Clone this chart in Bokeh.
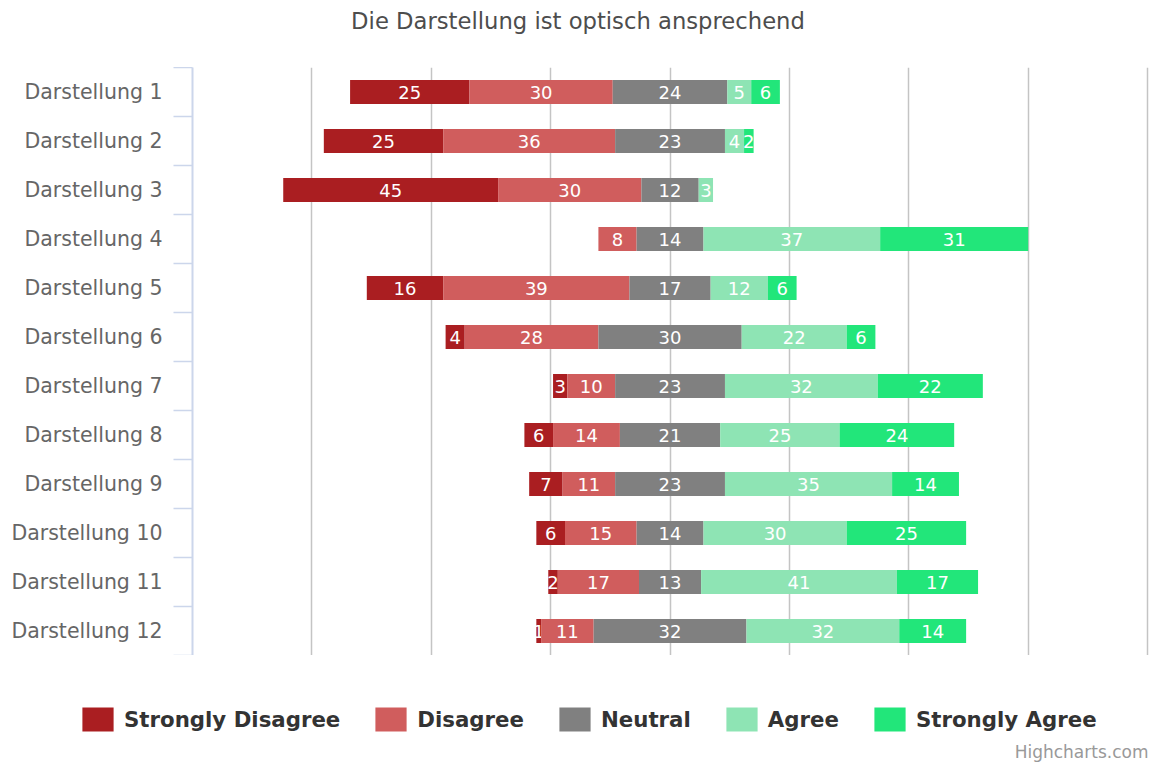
from bokeh.plotting import figure
from bokeh.layouts import column
from bokeh.models import (ColumnDataSource, Range1d, FixedTicker, LinearAxis, Grid,
                          Legend, LegendItem, Label)
from bokeh.embed import file_html
from bokeh.resources import INLINE
from bokeh.core.properties import value

# ---------------- data ----------------
categories = [f"Darstellung {i}" for i in range(1, 13)]
strongly_disagree = [25, 25, 45, 0, 16, 4, 3, 6, 7, 6, 2, 1]
disagree = [30, 36, 30, 8, 39, 28, 10, 14, 11, 15, 17, 11]
neutral = [24, 23, 12, 14, 17, 30, 23, 21, 23, 14, 13, 32]
agree = [5, 4, 3, 37, 12, 22, 32, 25, 35, 30, 41, 32]
strongly_agree = [6, 2, 0, 31, 6, 6, 22, 24, 14, 25, 17, 14]
series_names = ["Strongly Disagree", "Disagree", "Neutral", "Agree", "Strongly Agree"]
series_colors = ["#aa1e21", "#d05d5d", "#808080", "#8ee4b4", "#22e67a"]
x_grid_ticks = [-75, -50, -25, 0, 25, 50, 75, 100]
title_text = "Die Darstellung ist optisch ansprechend"
credits_text = "Highcharts.com"

series = [strongly_disagree, disagree, neutral, agree, strongly_agree]
n = len(categories)
ys = [i + 0.5 for i in range(n)]
FONT = "DejaVu Sans"
W = 1152


def bare(fig):
    fig.outline_line_color = None
    fig.background_fill_color = "white"
    fig.border_fill_color = "white"
    fig.center = [r for r in fig.center if not isinstance(r, Grid)]
    return fig


# ---------------- title strip ----------------
t_fig = bare(figure(width=W, height=67, x_range=Range1d(0, W), y_range=Range1d(0, 67),
                    output_backend="svg", toolbar_location=None,
                    x_axis_location=None, y_axis_location=None, min_border=0,
                    frame_align=False))
t_fig.add_layout(Label(x=577.5, y=47, text=title_text, text_align="center",
                       text_baseline="middle", text_font=FONT, text_font_size="22.7px",
                       text_color="#4d4d4d"))

# ---------------- main chart ----------------
p = bare(figure(width=W, height=588,
                x_range=Range1d(-100, 100.4), y_range=Range1d(n, 0),
                output_backend="svg", toolbar_location=None,
                x_axis_location=None, y_axis_location=None,
                min_border=0, min_border_left=192, min_border_right=3,
                frame_align=False))

grid = Grid(dimension=0, ticker=FixedTicker(ticks=x_grid_ticks),
            grid_line_color="#c4c4c4", grid_line_width=1.5)
p.add_layout(grid)

yaxis = LinearAxis(ticker=FixedTicker(ticks=ys, minor_ticks=list(range(n + 1))),
                   major_label_overrides={y: c for y, c in zip(ys, categories)},
                   major_tick_out=0, major_tick_in=0,
                   minor_tick_out=19, minor_tick_in=0,
                   minor_tick_line_color="#ccd6eb", minor_tick_line_width=1.5,
                   axis_line_color="#ccd6eb", axis_line_width=2,
                   major_label_text_font=FONT, major_label_text_font_size="20.5px",
                   major_label_text_color="#666666", major_label_standoff=11)
p.add_layout(yaxis, "left")

starts = [-(sd + d + nt / 2) for sd, d, nt in zip(strongly_disagree, disagree, neutral)]
lefts = list(starts)
for name, vals, col in zip(series_names, series, series_colors):
    rights = [l + v for l, v in zip(lefts, vals)]
    src = ColumnDataSource(dict(y=ys, left=lefts, right=rights))
    p.hbar(y="y", left="left", right="right", height=0.49, source=src,
           fill_color=col, line_color=None)
    lab = [(l + rr) / 2 for l, rr, v in zip(lefts, rights, vals) if v > 0]
    lab_y = [y for y, v in zip(ys, vals) if v > 0]
    lab_t = [str(v) for v in vals if v > 0]
    tsrc = ColumnDataSource(dict(x=lab, y=lab_y, t=lab_t))
    p.text(x="x", y="y", text="t", source=tsrc, text_color="white",
           text_font=value(FONT), text_font_size="18px",
           text_align="center", text_baseline="middle")
    lefts = rights

# ---------------- legend strip ----------------
l_fig = bare(figure(width=W, height=108, x_range=Range1d(0, W), y_range=Range1d(0, 108),
                    output_backend="svg", toolbar_location=None,
                    x_axis_location=None, y_axis_location=None, min_border=0,
                    frame_align=False))
items = []
for name, col in zip(series_names, series_colors):
    # legend swatch renderers (kept outside the visible range)
    r = l_fig.hbar(y=[-50], left=[0], right=[1], height=1, fill_color=col, line_color=None)
    items.append(LegendItem(label=name, renderers=[r]))
legend = Legend(items=items, orientation="horizontal", location=(78, 29),
                border_line_color=None, background_fill_alpha=0,
                label_text_font=FONT, label_text_font_style="bold",
                label_text_font_size="21.3px", label_text_color="#333333",
                glyph_width=39, glyph_height=30, label_standoff=7,
                spacing=31, padding=0, margin=0)
l_fig.add_layout(legend, "center")
l_fig.add_layout(Label(x=1148, y=12, text=credits_text, text_align="right",
                       text_baseline="middle", text_font=FONT, text_font_size="17px",
                       text_color="#999999"))

layout = column(t_fig, p, l_fig, spacing=0)
open("out.html", "w").write(file_html(layout, INLINE))
